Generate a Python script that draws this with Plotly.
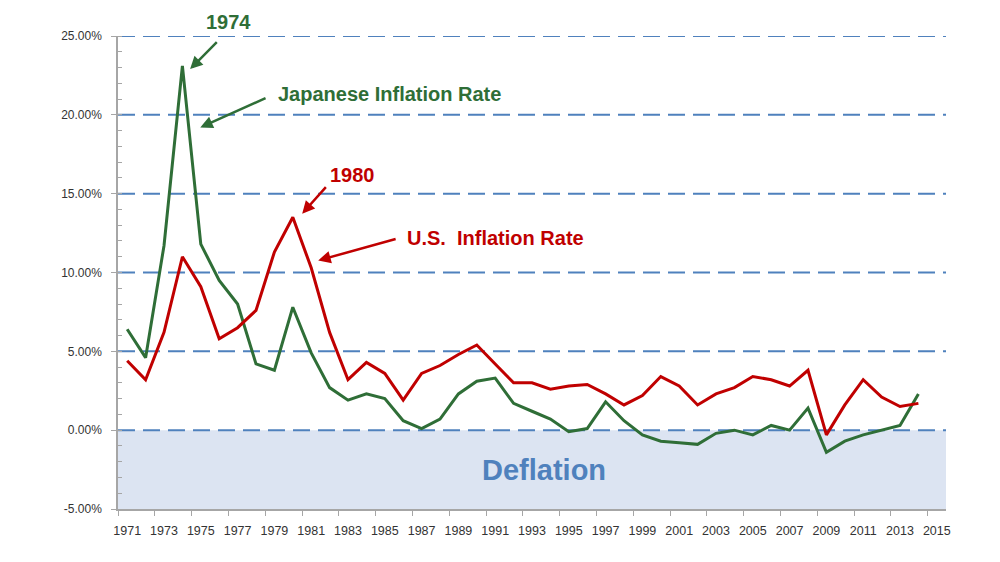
import plotly.graph_objects as go

years = list(range(1971, 2015))
japan = [6.4, 4.6, 11.7, 23.1, 11.8, 9.5, 8.0, 4.2, 3.8, 7.8,
         4.9, 2.7, 1.9, 2.3, 2.0, 0.6, 0.1, 0.7, 2.3, 3.1,
         3.3, 1.7, 1.2, 0.7, -0.1, 0.1, 1.8, 0.6, -0.3, -0.7,
         -0.8, -0.9, -0.2, 0.0, -0.3, 0.3, 0.0, 1.4, -1.4, -0.7,
         -0.3, 0.0, 0.3, 2.3]
us = [4.4, 3.2, 6.2, 11.0, 9.1, 5.8, 6.5, 7.6, 11.3, 13.5,
      10.3, 6.2, 3.2, 4.3, 3.6, 1.9, 3.6, 4.1, 4.8, 5.4,
      4.2, 3.0, 3.0, 2.6, 2.8, 2.9, 2.3, 1.6, 2.2, 3.4,
      2.8, 1.6, 2.3, 2.7, 3.4, 3.2, 2.8, 3.8, -0.3, 1.6,
      3.2, 2.1, 1.5, 1.7]
x_tick_labels = [str(y) for y in range(1971, 2016, 2)]
y_ticks = [-5, 0, 5, 10, 15, 20, 25]
grid_levels = [0, 5, 10, 15, 20, 25]

GREEN = "#2F6E37"
RED = "#C00000"
BLUE = "#4F81BD"

fig = go.Figure()
fig.add_trace(go.Scatter(x=years, y=japan, mode="lines", name="Japan",
                         line=dict(color=GREEN, width=3)))
fig.add_trace(go.Scatter(x=years, y=us, mode="lines", name="U.S.",
                         line=dict(color=RED, width=3)))

shapes = [dict(type="rect", xref="paper", yref="y", x0=0, x1=1, y0=-5, y1=0,
               fillcolor="#DCE4F2", line=dict(width=0), layer="below")]
for g in grid_levels:
    shapes.append(dict(type="line", xref="paper", yref="y", x0=0, x1=1, y0=g, y1=g,
                       line=dict(color=BLUE, width=2, dash="17px,8px"), layer="below"))

fnt = "Liberation Sans, Arial, sans-serif"
annotations = [
    dict(x=1976.5, y=1.0296, yref="paper", yanchor="middle", text="<b>1974</b>",
         showarrow=False, font=dict(family=fnt, size=20, color=GREEN)),
    dict(x=1974.42, y=22.9, ax=1975.95, ay=24.7, axref="x", ayref="y",
         text="", showarrow=True, arrowhead=2, arrowsize=1, arrowwidth=2.5, arrowcolor=GREEN),
    dict(x=1979.1, y=21.3, text="<b>Japanese Inflation Rate</b>", showarrow=False,
         xanchor="left", font=dict(family=fnt, size=20, color=GREEN)),
    dict(x=1974.97, y=19.2, ax=1978.6, ay=21.1, axref="x", ayref="y",
         text="", showarrow=True, arrowhead=2, arrowsize=1, arrowwidth=2.5, arrowcolor=GREEN),
    dict(x=1983.23, y=16.2, text="<b>1980</b>", showarrow=False,
         font=dict(family=fnt, size=20, color=RED)),
    dict(x=1980.51, y=13.73, ax=1981.87, ay=15.51, axref="x", ayref="y",
         text="", showarrow=True, arrowhead=2, arrowsize=1, arrowwidth=2.5, arrowcolor=RED),
    dict(x=1986.1, y=12.22, text="<b>U.S.  Inflation Rate</b>", showarrow=False,
         xanchor="left", font=dict(family=fnt, size=20, color=RED)),
    dict(x=1981.38, y=10.76, ax=1985.67, ay=12.15, axref="x", ayref="y",
         text="", showarrow=True, arrowhead=2, arrowsize=1, arrowwidth=2.5, arrowcolor=RED),
    dict(x=1993.66, y=-2.55, text="<b>Deflation</b>", showarrow=False,
         font=dict(family=fnt, size=29, color=BLUE)),
]

fig.update_layout(
    width=992, height=554,
    margin=dict(l=110, r=54, t=28, b=53),
    paper_bgcolor="white", plot_bgcolor="white",
    showlegend=False,
    shapes=shapes,
    annotations=annotations,
    font=dict(family=fnt, size=12, color="#333333"),
)
fig.update_xaxes(
    range=[1970.5, 2015.5],
    tickvals=[int(t) for t in x_tick_labels], ticktext=x_tick_labels,
    ticks="", showgrid=False, zeroline=False,
    showline=True, linecolor="#A6A6A6", linewidth=1.5,
    minor=dict(tick0=1970.5, dtick=2, ticks="outside", ticklen=5,
               tickcolor="#A6A6A6", showgrid=False),
    ticklabelstandoff=9,
    tickfont=dict(size=12.5, color="#333333"),
)
fig.update_yaxes(
    range=[-5, 25],
    tickvals=y_ticks, ticktext=[f"{v:.2f}%" for v in y_ticks],
    ticks="outside", ticklen=5, tickcolor="#A6A6A6",
    showgrid=False, zeroline=False,
    showline=True, linecolor="#A6A6A6", linewidth=1.5,
    minor=dict(dtick=1, ticks="inside", ticklen=4, tickcolor="#A6A6A6", showgrid=False),
    ticklabelstandoff=7,
    tickfont=dict(size=12, color="#333333"),
)

fig.write_html("out.html")
